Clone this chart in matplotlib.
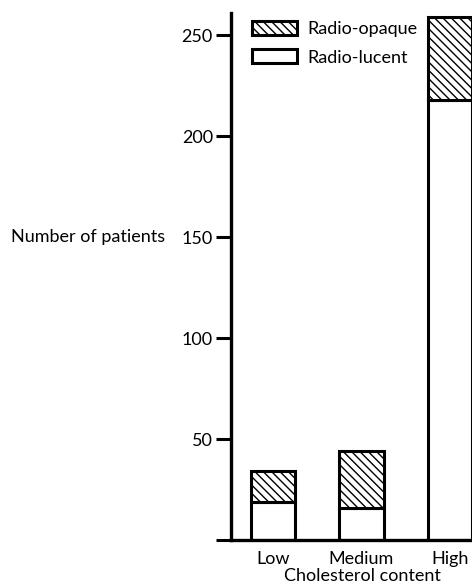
import matplotlib
matplotlib.use("Agg")
import matplotlib.pyplot as plt
from matplotlib.patches import Patch

categories = ["Low", "Medium", "High"]
radio_lucent = [19, 16, 218]
radio_opaque = [15, 28, 41]
yticks = [0, 50, 100, 150, 200, 250]
ytick_labels = ["", "50", "100", "150", "200", "250"]

plt.rcParams['font.family'] = ['Lato', 'DejaVu Sans']
plt.rcParams['hatch.linewidth'] = 1.0

HATCH = "\\\\\\\\"
FS = 13

fig = plt.figure(figsize=(4.72, 5.85), dpi=100)
W, H = 472, 585
ax_left, ax_right = 231, 472
ax_bottom, ax_top = 540, 13
ax = fig.add_axes([ax_left / W, 1 - ax_bottom / H, (ax_right - ax_left) / W, (ax_bottom - ax_top) / H])

x = list(range(len(categories)))
width = 0.5
ax.bar(x, radio_lucent, width=width, color="white", edgecolor="black", linewidth=2.2, zorder=2)
ax.bar(x, radio_opaque, width=width, bottom=radio_lucent, color="white", edgecolor="black",
       linewidth=2.2, hatch=HATCH, zorder=2)

ax.set_xlim(-0.475, 2.25)
ax.set_ylim(0, 261)

for s in ["top", "right"]:
    ax.spines[s].set_visible(False)
ax.spines["left"].set_linewidth(2.4)
ax.spines["bottom"].set_linewidth(2.4)

ax.set_yticks(yticks)
ax.set_yticklabels(ytick_labels, fontsize=FS)
ax.tick_params(axis="y", direction="out", length=11, width=2.2, pad=2)
ax.set_xticks(x)
ax.set_xticklabels(categories, fontsize=FS)
ax.tick_params(axis="x", length=0, pad=8)

fig.text(362 / W, 1 - 584 / H, "Cholesterol content", ha="center", va="bottom", fontsize=FS)
fig.text(165 / W, 1 - 237 / H, "Number of patients", ha="right", va="center", fontsize=FS)

handles = [Patch(facecolor="white", edgecolor="black", linewidth=2.2, hatch=HATCH, label="Radio-opaque"),
           Patch(facecolor="white", edgecolor="black", linewidth=2.2, label="Radio-lucent")]
leg = ax.legend(handles=handles, loc="upper left", bbox_to_anchor=((252 - ax_left) / 241, 0.985),
                frameon=False, fontsize=FS, handlelength=2.5, handleheight=0.85,
                handletextpad=0.55, labelspacing=0.65, borderpad=0, borderaxespad=0)

fig.savefig("out.png", dpi=100)
